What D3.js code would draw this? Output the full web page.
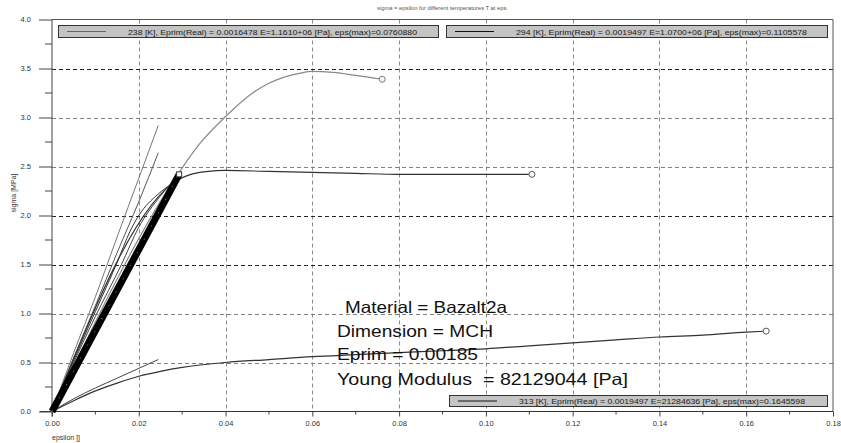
<!DOCTYPE html>
<html>
<head>
<meta charset="utf-8">
<script src="https://cdn.jsdelivr.net/npm/d3@7"></script>
<style>
  html, body { margin: 0; padding: 0; background: #fff; }
  svg { display: block; font-family: "Liberation Sans", Arial, sans-serif; }
</style>
</head>
<body>
<svg id="chart" width="841" height="443"></svg>
<script>
// Stress-strain curves, sigma [MPa] vs epsilon []
const xTicks = [0, 0.02, 0.04, 0.06, 0.08, 0.10, 0.12, 0.14, 0.16, 0.18];
const yTicks = [0, 0.5, 1.0, 1.5, 2.0, 2.5, 3.0, 3.5, 4.0];
const xTickLabels = ["0.00", "0.02", "0.04", "0.06", "0.08", "0.10", "0.12", "0.14", "0.16", "0.18"];
const yTickLabels = ["0.0", "0.5", "1.0", "1.5", "2.0", "2.5", "3.0", "3.5", "4.0"];

// Curve 238 K (grey)
const eps238 = [0, 0.0293, 0.034, 0.040, 0.0456, 0.050, 0.0541, 0.0570, 0.0599, 0.0648, 0.070, 0.0761];
const sig238 = [0, 2.44, 2.73, 3.01, 3.23, 3.35, 3.42, 3.45, 3.47, 3.46, 3.43, 3.39];
// Curve 294 K (black)
const eps294 = [0, 0.0293, 0.032, 0.036, 0.040, 0.050, 0.060, 0.070, 0.080, 0.090, 0.100, 0.1106];
const sig294 = [0, 2.37, 2.42, 2.45, 2.46, 2.45, 2.44, 2.43, 2.42, 2.42, 2.42, 2.42];
// Curve 313 K (black)
const eps313 = [0, 0.005, 0.010, 0.015, 0.020, 0.025, 0.030, 0.040, 0.050, 0.060, 0.070, 0.080, 0.090, 0.100, 0.110, 0.120, 0.130, 0.140, 0.150, 0.160, 0.1646];
const sig313 = [0, 0.11, 0.21, 0.29, 0.36, 0.41, 0.45, 0.50, 0.53, 0.56, 0.58, 0.60, 0.62, 0.64, 0.67, 0.70, 0.73, 0.76, 0.78, 0.81, 0.82];

// Bundle of elastic-range samples (thick band)
const epsBand = [0, 0.0293];
const sigBand = [0, 2.42];

// Other short elastic runs
const epsRunA = [0, 0.005, 0.010, 0.015, 0.020, 0.0245];
const sigRunA = [0, 0.60, 1.17, 1.78, 2.38, 2.92];
const epsRunB = [0, 0.005, 0.010, 0.015, 0.020, 0.0245];
const sigRunB = [0, 0.55, 1.08, 1.62, 2.14, 2.64];
const epsRunC = [0, 0.005, 0.010, 0.015, 0.018, 0.020, 0.0245, 0.0275];
const sigRunC = [0, 0.52, 1.02, 1.52, 1.84, 2.00, 2.22, 2.32];
const epsRunD = [0, 0.005, 0.010, 0.016, 0.020, 0.025, 0.0285];
const sigRunD = [0, 0.50, 0.97, 1.50, 1.88, 2.20, 2.38];
const epsRunE = [0, 0.005, 0.010, 0.015, 0.020, 0.0245];
const sigRunE = [0, 0.13, 0.24, 0.34, 0.44, 0.53];

const legendLabels = [
  "238 [K], Eprim(Real) = 0.0016478 E=1.1610+06 [Pa], eps(max)=0.0760880",
  "294 [K], Eprim(Real) = 0.0019497 E=1.0700+06 [Pa], eps(max)=0.1105578",
  "313 [K], Eprim(Real) = 0.0019497 E=21284636 [Pa], eps(max)=0.1645598"
];
const infoLines = [
  "Material = Bazalt2a",
  "Dimension = MCH",
  "Eprim = 0.00185",
  "Young Modulus  = 82129044 [Pa]"
];
const titleText = "sigma = epsilon for different temperatures T at eps.";

const svg = d3.select("#chart");
const padL = 52, padR = 833, padT = 19.5, padB = 411.5;

const x = d3.scaleLinear().domain([0, 0.18]).range([padL, padR]);
const y = d3.scaleLinear().domain([0, 4.0]).range([padB, padT]);

// Title
svg.append("text")
  .attr("x", (padL + padR) / 2).attr("y", 10)
  .attr("text-anchor", "middle")
  .attr("font-size", 5.8).attr("fill", "#555")
  .text(titleText);

// Grid
const darkRows = new Set([1.5, 2.0, 3.5]);
const grid = svg.append("g");
grid.selectAll("line.vx").data(xTicks.slice(1, -1)).join("line")
  .attr("x1", d => Math.round(x(d)) + 0.5).attr("x2", d => Math.round(x(d)) + 0.5)
  .attr("y1", padT).attr("y2", padB)
  .attr("stroke", "#8a8a8a").attr("stroke-dasharray", "4,3");
grid.selectAll("line.hy").data(yTicks.slice(1, -1)).join("line")
  .attr("x1", padL).attr("x2", padR)
  .attr("y1", d => Math.round(y(d)) + 0.5).attr("y2", d => Math.round(y(d)) + 0.5)
  .attr("stroke", d => darkRows.has(d) ? "#222" : "#808080")
  .attr("stroke-dasharray", "4,3");

// Frame (top and right)
svg.append("path")
  .attr("d", `M${padL},${padT}H${padR}V${padB}`)
  .attr("fill", "none").attr("stroke", "#555");

// Axes
const xAxis = d3.axisBottom(x).tickValues(xTicks)
  .tickFormat((d, i) => xTickLabels[i]).tickSize(5).tickSizeOuter(0).tickPadding(4);
const gx = svg.append("g").attr("transform", `translate(0,${padB})`).call(xAxis);
gx.select(".domain").remove();
gx.selectAll("line").attr("stroke", "#444");
gx.selectAll("text").attr("font-size", 7.5).attr("fill", "#333").attr("font-family", "Liberation Sans, Arial, sans-serif");
// minor x ticks
const xMinor = d3.range(0.01, 0.18, 0.02);
svg.append("g").selectAll("line").data(xMinor).join("line")
  .attr("x1", d => x(d)).attr("x2", d => x(d))
  .attr("y1", padB).attr("y2", padB + 3).attr("stroke", "#444");
svg.append("line").attr("x1", 40).attr("x2", padR).attr("y1", padB).attr("y2", padB)
  .attr("stroke", "#333");

const yAxis = d3.axisLeft(y).tickValues(yTicks)
  .tickFormat((d, i) => yTickLabels[i]).tickSize(13).tickSizeOuter(0).tickPadding(8);
const gy = svg.append("g").attr("transform", `translate(${padL},0)`).call(yAxis);
gy.select(".domain").remove();
gy.selectAll("line").attr("stroke", "#444");
gy.selectAll("text").attr("font-size", 7.5).attr("fill", "#333").attr("font-family", "Liberation Sans, Arial, sans-serif");
const yMinor = d3.range(0.25, 4.0, 0.5);
svg.append("g").selectAll("line").data(yMinor).join("line")
  .attr("x1", padL - 7).attr("x2", padL)
  .attr("y1", d => y(d)).attr("y2", d => y(d)).attr("stroke", "#444");
svg.append("line").attr("x1", padL).attr("x2", padL).attr("y1", padT).attr("y2", padB + 5)
  .attr("stroke", "#444");

// Axis titles
svg.append("text")
  .attr("transform", `translate(16,193) rotate(-90)`)
  .attr("text-anchor", "middle").attr("font-size", 7).attr("fill", "#333")
  .text("sigma [MPa]");
svg.append("text")
  .attr("x", padL).attr("y", 440)
  .attr("font-size", 7).attr("fill", "#333")
  .text("epsilon []");

// Curves
const line = d3.line().x(d => x(d[0])).y(d => y(d[1])).curve(d3.curveMonotoneX);
const straight = d3.line().x(d => x(d[0])).y(d => y(d[1]));
const pair = (e, s) => e.map((v, i) => [v, s[i]]);

const plot = svg.append("g");
const runs = [
  { e: epsRunA, s: sigRunA, c: "#777" },
  { e: epsRunB, s: sigRunB, c: "#555" },
  { e: epsRunC, s: sigRunC, c: "#333" },
  { e: epsRunD, s: sigRunD, c: "#444" },
  { e: epsRunE, s: sigRunE, c: "#444" }
];
runs.forEach(r => {
  plot.append("path").datum(pair(r.e, r.s)).attr("d", line)
    .attr("fill", "none").attr("stroke", r.c).attr("stroke-width", 1);
});

plot.append("path").datum(pair(eps313, sig313)).attr("d", line)
  .attr("fill", "none").attr("stroke", "#333").attr("stroke-width", 1.2);
plot.append("path").datum(pair(eps294, sig294)).attr("d", line)
  .attr("fill", "none").attr("stroke", "#333").attr("stroke-width", 1.2);
plot.append("path").datum(pair(eps238, sig238)).attr("d", line)
  .attr("fill", "none").attr("stroke", "#888").attr("stroke-width", 1.2);

// Thick band
plot.append("path").datum(pair(epsBand, sigBand)).attr("d", straight)
  .attr("fill", "none").attr("stroke", "#000").attr("stroke-width", 7);
plot.append("path").datum(pair(epsBand, sigBand)).attr("d", straight)
  .attr("fill", "none").attr("stroke", "#fff").attr("stroke-width", 0.8)
  .attr("stroke-dasharray", "1,14").attr("opacity", 0.7);
// square marker at band end
const bx = x(epsBand[1]), by = y(sigBand[1]);
plot.append("rect").attr("x", bx - 2.5).attr("y", by - 2.5).attr("width", 5).attr("height", 5)
  .attr("fill", "#fff").attr("stroke", "#333");

// End markers
const ends = [
  { e: eps238[eps238.length - 1], s: sig238[sig238.length - 1], c: "#777" },
  { e: eps294[eps294.length - 1], s: sig294[sig294.length - 1], c: "#555" },
  { e: eps313[eps313.length - 1], s: sig313[sig313.length - 1], c: "#555" }
];
plot.selectAll("circle").data(ends).join("circle")
  .attr("cx", d => x(d.e)).attr("cy", d => y(d.s)).attr("r", 3)
  .attr("fill", "#fff").attr("stroke", d => d.c);

// Legend boxes
const boxes = [
  { x0: 58, x1: 438, y0: 25, y1: 37, c: "#666", w: 289 },
  { x0: 446, x1: 827, y0: 25, y1: 37, c: "#111", w: 291 },
  { x0: 449, x1: 827, y0: 395, y1: 406, c: "#111", w: 286 }
];
boxes.forEach((b, i) => {
  const g = svg.append("g");
  g.append("rect").attr("x", b.x0 + 0.5).attr("y", b.y0 + 0.5)
    .attr("width", b.x1 - b.x0).attr("height", b.y1 - b.y0)
    .attr("fill", "#c4c4c4").attr("stroke", "#333");
  const cy = (b.y0 + b.y1) / 2 + 0.5;
  g.append("line").attr("x1", b.x0 + 9).attr("x2", b.x0 + 48)
    .attr("y1", cy).attr("y2", cy).attr("stroke", b.c);
  g.append("text").attr("x", b.x0 + 70).attr("y", cy + 3)
    .attr("font-size", 8).attr("fill", "#222")
    .attr("textLength", b.w).attr("lengthAdjust", "spacingAndGlyphs")
    .text(legendLabels[i]);
});

// Material info text
const infoLayout = [
  { x: 345, y: 313, w: 162 },
  { x: 337, y: 337, w: 156 },
  { x: 337, y: 360, w: 141 },
  { x: 337, y: 385, w: 291 }
];
svg.append("g").selectAll("text").data(infoLines).join("text")
  .attr("x", (d, i) => infoLayout[i].x).attr("y", (d, i) => infoLayout[i].y)
  .attr("font-size", 16.5).attr("fill", "#111")
  .attr("textLength", (d, i) => infoLayout[i].w).attr("lengthAdjust", "spacingAndGlyphs")
  .style("white-space", "pre")
  .text(d => d);
</script>
</body>
</html>
